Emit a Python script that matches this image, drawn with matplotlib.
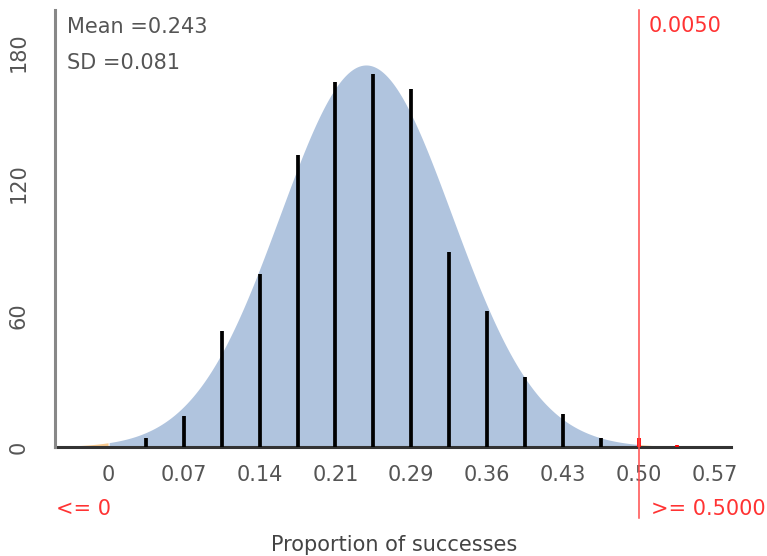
import numpy as np
import matplotlib.pyplot as plt

# simulated proportions (k/28) and how many of the 1000-ish runs landed there
n_trials = 28
successes = [1, 2, 3, 4, 5, 6, 7, 8, 9, 10, 11, 12, 13, 14, 15]
counts = [4, 14, 53, 79, 133, 166, 170, 163, 89, 62, 32, 15, 4, 4, 1]
mean = 0.243
sd = 0.081
cutoff_low = 0.0
cutoff_high = 0.5
p_value = "0.0050"

xtick_k = [0, 2, 4, 6, 8, 10, 12, 14, 16]
xtick_labels = ["0", "0.07", "0.14", "0.21", "0.29", "0.36", "0.43", "0.50", "0.57"]
yticks = [0, 60, 120, 180]

W, H = 767, 556
plt.rcParams['font.family'] = 'DejaVu Sans'
fig = plt.figure(figsize=(W / 100, H / 100), dpi=100)
ax = fig.add_axes([55 / W, 1 - 447 / H, (731 - 55) / W, (447 - 10) / H])

props = np.array(successes) / n_trials
counts = np.array(counts)

# normal curve overlay, scaled to counts per bin
xs = np.linspace(-0.05, 0.587, 600)
bin_w = 1 / n_trials
dens = counts.sum() * bin_w / (sd * np.sqrt(2 * np.pi)) * np.exp(-0.5 * ((xs - mean) / sd) ** 2)
mid = (xs >= cutoff_low) & (xs <= cutoff_high)
ax.fill_between(xs, 0, dens, where=mid, color='#b0c4de', lw=0, zorder=1)
ax.fill_between(xs, 0, dens, where=xs <= cutoff_low, color='#f7c98f', lw=0, zorder=1)
ax.fill_between(xs, 0, dens, where=xs >= cutoff_high, color='#f7c98f', lw=0, zorder=1)

# bars as thick lines
bar_cols = ['red' if p >= cutoff_high else 'black' for p in props]
ax.vlines(props, 0, counts, colors=bar_cols, lw=2.7, capstyle='butt', zorder=3)

ax.axvline(cutoff_high, ymin=-0.163, ymax=1, clip_on=False, color='#ff4d4d', lw=1.1, zorder=4)

ax.set_xlim(-0.05, 0.587)
ax.set_ylim(0, 199)
ax.set_xticks(np.array(xtick_k) / n_trials)
ax.set_xticklabels(xtick_labels)
ax.set_yticks(yticks)
ax.set_yticklabels([str(v) for v in yticks])
ax.tick_params(axis='x', length=0, pad=13, labelsize=15, labelcolor='#555555')
ax.tick_params(axis='y', length=0, pad=19, labelsize=15, labelcolor='#555555', labelrotation=90)
for lab in ax.get_yticklabels():
    lab.set_va('center')

for s in ['top', 'right']:
    ax.spines[s].set_visible(False)
ax.spines['left'].set_color('#888888')
ax.spines['left'].set_linewidth(2.2)
ax.spines['bottom'].set_color('#333333')
ax.spines['bottom'].set_linewidth(2.2)
ax.spines['bottom'].set_zorder(2)


def px_text(x, y, s, **kw):
    fig.text(x / W, 1 - y / H, s, fontsize=15, **kw)


px_text(67, 27, "Mean =%.3f" % mean, color='#555555', va='center')
px_text(67, 63, "SD =%.3f" % sd, color='#555555', va='center')
px_text(649, 26, p_value, color='#ff3333', va='center')
px_text(56, 509, "<= 0", color='#ff3333', va='center')
px_text(651, 509, ">= 0.5000", color='#ff3333', va='center')
px_text(394, 551, "Proportion of successes", color='#444444', ha='center', va='baseline')

fig.savefig('out.png', dpi=100)
